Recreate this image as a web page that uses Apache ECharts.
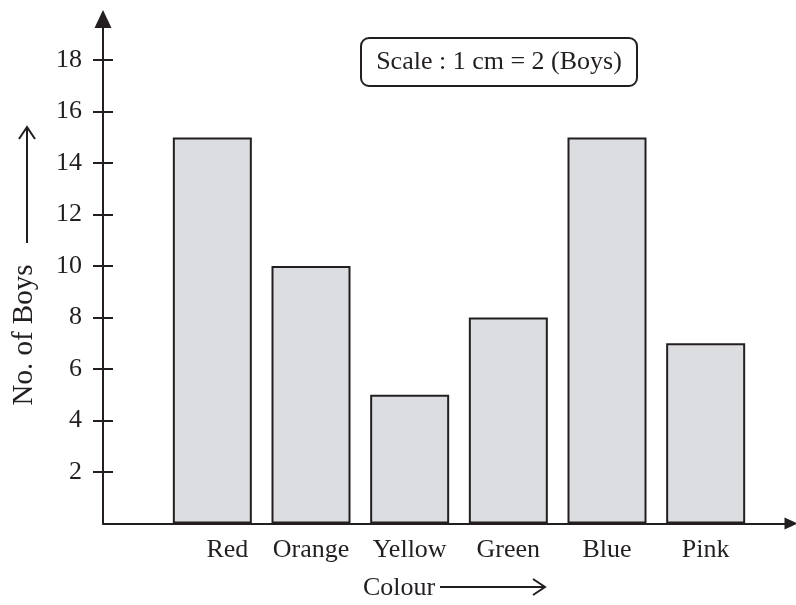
<!DOCTYPE html>
<html>
<head>
<meta charset="utf-8">
<script src="https://cdn.jsdelivr.net/npm/echarts@6/dist/echarts.min.js"></script>
<style>
html,body{margin:0;padding:0;background:#fff;}
#c{width:796px;height:605px;}
</style>
</head>
<body>
<div id="c"></div>
<script>
const categories = ['Red', 'Orange', 'Yellow', 'Green', 'Blue', 'Pink'];
const boys = [15, 10, 5, 8, 15, 7];
const yTicks = [2, 4, 6, 8, 10, 12, 14, 16, 18];
const yTitle = 'No. of Boys';
const xTitle = 'Colour';
const scaleNote = 'Scale : 1 cm = 2 (Boys)';

const INK = '#231f20';
const FONT = 'Liberation Serif';
const Y_MAX = 19.6;
const TOP = 19, BOTTOM = 605 - 523.5;

const chart = echarts.init(document.getElementById('c'), null, {renderer: 'canvas'});

const catData = categories.map((c, i) => i === 0
  ? {value: c, textStyle: {padding: [0, 0, 0, 30]}}
  : c);

const option = {
  backgroundColor: '#ffffff',
  animation: false,
  grid: [
    {left: 103, right: 5, top: TOP, bottom: BOTTOM},
    {left: 163, width: 592, top: TOP, bottom: BOTTOM}
  ],
  xAxis: [
    {
      gridIndex: 0, type: 'value', min: 0, max: 1,
      axisLine: {show: true, onZero: false, symbol: ['none', 'triangle'], symbolSize: [12, 13],
        lineStyle: {color: INK, width: 2}},
      axisTick: {show: false}, axisLabel: {show: false}, splitLine: {show: false}
    },
    {
      gridIndex: 1, type: 'category', data: catData,
      axisLine: {show: false}, axisTick: {show: false}, splitLine: {show: false},
      axisLabel: {color: INK, fontFamily: FONT, fontSize: 26, margin: 14, interval: 0}
    }
  ],
  yAxis: [
    {
      gridIndex: 0, type: 'value', min: 0, max: Y_MAX,
      axisLine: {show: true, symbol: ['none', 'triangle'], symbolSize: [17, 18],
        lineStyle: {color: INK, width: 2}},
      axisTick: {show: false},
      axisLabel: {show: true, customValues: yTicks, color: INK, fontFamily: FONT, fontSize: 26, margin: 21},
      splitLine: {show: false}
    },
    {
      gridIndex: 1, type: 'value', min: 0, max: Y_MAX, position: 'left', offset: 50,
      axisLine: {show: false},
      axisTick: {show: true, inside: false, length: 20, customValues: yTicks,
        lineStyle: {color: INK, width: 2}},
      axisLabel: {show: false}, splitLine: {show: false}
    }
  ],
  series: [{
    type: 'bar',
    xAxisIndex: 1, yAxisIndex: 1,
    data: boys,
    barWidth: 79,
    itemStyle: {color: '#dcdde0', borderColor: INK, borderWidth: 2},
    z: 1
  }],
  graphic: [
    {
      type: 'rect', shape: {x: 361, y: 38, width: 276, height: 48, r: 8},
      style: {fill: '#fff', stroke: INK, lineWidth: 2}
    },
    {
      type: 'text', x: 499, y: 62,
      style: {text: scaleNote, font: '26px "Liberation Serif"', fill: INK, align: 'center', verticalAlign: 'middle'}
    },
    {
      type: 'text', x: 24, y: 335, rotation: Math.PI / 2,
      style: {text: yTitle, font: '29px "Liberation Serif"', fill: INK, align: 'center', verticalAlign: 'middle'}
    },
    {
      type: 'polyline', shape: {points: [[27, 243], [27, 128]]},
      style: {stroke: INK, lineWidth: 2, fill: null}
    },
    {
      type: 'polyline', shape: {points: [[19, 139], [27, 127], [35, 139]]},
      style: {stroke: INK, lineWidth: 2, fill: null}
    },
    {
      type: 'text', x: 399, y: 588,
      style: {text: xTitle, font: '26px "Liberation Serif"', fill: INK, align: 'center', verticalAlign: 'middle'}
    },
    {
      type: 'polyline', shape: {points: [[440, 587], [544, 587]]},
      style: {stroke: INK, lineWidth: 2, fill: null}
    },
    {
      type: 'polyline', shape: {points: [[533, 579], [545, 587], [533, 595]]},
      style: {stroke: INK, lineWidth: 2, fill: null}
    }
  ]
};

chart.setOption(option);
</script>
</body>
</html>
